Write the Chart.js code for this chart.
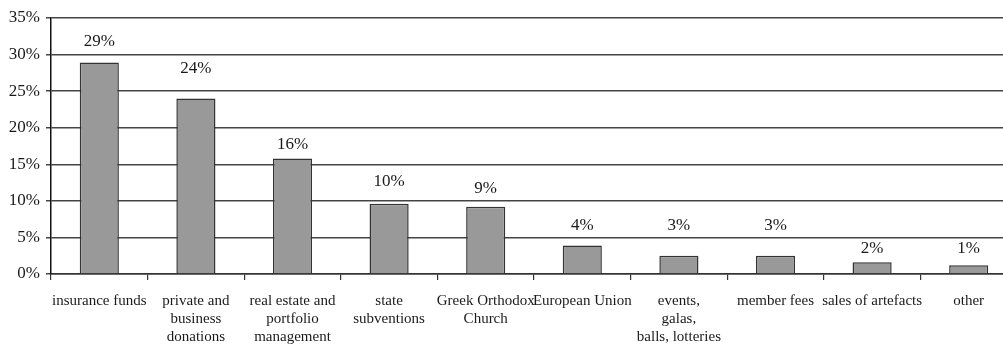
<!DOCTYPE html>
<html>
<head>
<meta charset="utf-8">
<script src="https://cdn.jsdelivr.net/npm/chart.js@4/dist/chart.umd.min.js"></script>
<style>
  html, body { margin: 0; padding: 0; background: #fff; overflow: hidden; }
  #wrap { width: 1030px; height: 349px; }
</style>
</head>
<body>
<div id="wrap"><canvas id="fundingChart" width="1030" height="349"></canvas></div>
<script>
// Источники финансирования, доля в %
const categories = [
    'insurance funds',
    ['private and', 'business', 'donations'],
    ['real estate and', 'portfolio', 'management'],
    ['state', 'subventions'],
    ['Greek Orthodox', 'Church'],
    'European Union',
    ['events,', 'galas,', 'balls, lotteries'],
    'member fees',
    'sales of artefacts',
    'other'
];
const shares = [28.9, 24.0, 15.8, 9.6, 9.2, 3.9, 2.5, 2.5, 1.6, 1.2];
const yTicks = [0, 5, 10, 15, 20, 25, 30, 35];

const serif = '"Liberation Serif", "Times New Roman", serif';

// Подписи над столбцами (отступ в px от верха столбца)
const labelLift = [14, 22, 6, 15, 11, 12, 23, 23, 6, 9];
const valueLabels = {
    id: 'valueLabels',
    afterDatasetsDraw(chart) {
        const ctx = chart.ctx;
        const meta = chart.getDatasetMeta(0);
        ctx.save();
        ctx.font = '17px ' + serif;
        ctx.fillStyle = '#1a1a1a';
        ctx.textAlign = 'center';
        ctx.textBaseline = 'alphabetic';
        meta.data.forEach((bar, i) => {
            const v = chart.data.datasets[0].data[i];
            ctx.fillText(Math.round(v) + '%', bar.x, bar.y - labelLift[i] - 3);
        });
        ctx.restore();
    }
};

const ctx = document.getElementById('fundingChart').getContext('2d');
new Chart(ctx, {
    type: 'bar',
    data: {
        labels: categories,
        datasets: [{
            data: shares,
            backgroundColor: '#999999',
            borderColor: '#333333',
            borderWidth: 1.5,
            categoryPercentage: 1,
            barPercentage: 0.405
        }]
    },
    options: {
        responsive: false,
        animation: false,
        layout: { padding: { top: 18, right: 13, left: 0, bottom: 0 } },
        plugins: {
            legend: { display: false },
            tooltip: { enabled: false }
        },
        scales: {
            x: {
                offset: true,
                grid: {
                    offset: true,
                    drawOnChartArea: false,
                    drawTicks: true,
                    tickLength: 6,
                    color: '#333',
                    lineWidth: 1.2
                },
                border: { display: true, color: '#333', width: 1.5 },
                ticks: {
                    autoSkip: false,
                    maxRotation: 0,
                    padding: 12,
                    color: '#1a1a1a',
                    font: { family: serif, size: 15 }
                },
                afterFit(scale) { scale.height = 75; }
            },
            y: {
                min: 0,
                max: 35,
                afterBuildTicks(scale) {
                    scale.ticks = yTicks.map(v => ({ value: v }));
                },
                grid: {
                    color: '#444',
                    lineWidth: 1.5,
                    tickLength: 5
                },
                border: { display: true, color: '#111', width: 1.5 },
                ticks: {
                    padding: 6,
                    color: '#1a1a1a',
                    font: { family: serif, size: 17 },
                    callback: v => v + '%'
                },
                afterFit(scale) { scale.width = 51; }
            }
        }
    },
    plugins: [valueLabels]
});
</script>
</body>
</html>
